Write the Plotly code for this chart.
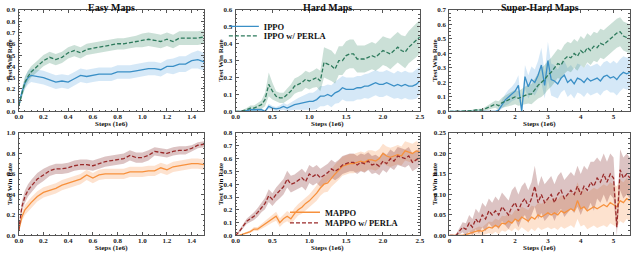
import plotly.graph_objects as go

# ---------------- data ----------------
easy_x = [0, 0.025, 0.05, 0.075, 0.1, 0.15, 0.2, 0.25, 0.3, 0.35, 0.4, 0.45, 0.5, 0.55, 0.6, 0.65,
          0.7, 0.75, 0.8, 0.85, 0.9, 0.95, 1.0, 1.05, 1.1, 1.15, 1.2, 1.25, 1.3, 1.35, 1.4, 1.45, 1.5]
easy_ippo = [0.05, 0.17, 0.25, 0.30, 0.32, 0.31, 0.30, 0.28, 0.26, 0.27, 0.26, 0.29, 0.32, 0.31, 0.32, 0.33,
             0.33, 0.33, 0.35, 0.35, 0.35, 0.36, 0.37, 0.38, 0.38, 0.37, 0.40, 0.40, 0.42, 0.42, 0.45, 0.46, 0.44]
easy_ippo_sd = [0.02, 0.04, 0.05, 0.06, 0.06, 0.06, 0.06, 0.06, 0.06, 0.06, 0.06, 0.06, 0.06, 0.06, 0.06, 0.06,
                0.06, 0.06, 0.06, 0.06, 0.06, 0.06, 0.06, 0.06, 0.06, 0.06, 0.06, 0.07, 0.07, 0.07, 0.07, 0.08, 0.08]
easy_perla = [0.05, 0.16, 0.26, 0.31, 0.35, 0.40, 0.45, 0.48, 0.46, 0.48, 0.52, 0.54, 0.52, 0.55, 0.56, 0.57,
              0.58, 0.59, 0.60, 0.60, 0.61, 0.62, 0.63, 0.64, 0.63, 0.62, 0.64, 0.62, 0.65, 0.65, 0.65, 0.65, 0.66]
easy_perla_sd = [0.02, 0.04, 0.05, 0.05, 0.05, 0.05, 0.05, 0.05, 0.05, 0.05, 0.05, 0.05, 0.05, 0.05, 0.05, 0.05,
                 0.05, 0.05, 0.05, 0.05, 0.05, 0.05, 0.06, 0.06, 0.06, 0.06, 0.06, 0.06, 0.06, 0.06, 0.06, 0.06, 0.06]

hard_x = [0.0, 0.05, 0.1, 0.15, 0.2, 0.25, 0.3, 0.35, 0.4, 0.45, 0.5, 0.55, 0.6, 0.65, 0.7, 0.75, 0.8,
          0.85, 0.9, 0.95, 1.0, 1.05, 1.1, 1.15, 1.2, 1.25, 1.3, 1.35, 1.4, 1.45, 1.5, 1.55, 1.6, 1.65,
          1.7, 1.75, 1.8, 1.85, 1.9, 1.95, 2.0, 2.05, 2.1, 2.15, 2.2, 2.25, 2.3, 2.35, 2.4, 2.45, 2.5]
hard_ippo = [0, 0, 0, 0.005, 0.01, 0.01, 0.01, 0.01, 0.0, 0.03, 0.02, 0.015, 0.02, 0.03, 0.02, 0.03, 0.04,
             0.045, 0.05, 0.055, 0.06, 0.06, 0.07, 0.09, 0.09, 0.10, 0.09, 0.11, 0.12, 0.14, 0.13, 0.13, 0.13, 0.14,
             0.14, 0.15, 0.15, 0.16, 0.17, 0.16, 0.16, 0.17, 0.16, 0.15, 0.16, 0.15, 0.16, 0.15, 0.15, 0.16, 0.18]
hard_ippo_sd = [0, 0, 0.002, 0.005, 0.008, 0.01, 0.01, 0.01, 0.005, 0.015, 0.012, 0.012, 0.015, 0.02, 0.02, 0.025, 0.03,
                0.035, 0.04, 0.045, 0.05, 0.05, 0.055, 0.06, 0.06, 0.06, 0.065, 0.065, 0.07, 0.07, 0.07, 0.07, 0.07, 0.07,
                0.07, 0.07, 0.075, 0.075, 0.075, 0.075, 0.075, 0.075, 0.075, 0.075, 0.08, 0.08, 0.08, 0.08, 0.08, 0.085, 0.085]
hard_perla = [0, 0, 0.005, 0.01, 0.02, 0.02, 0.03, 0.04, 0.07, 0.16, 0.12, 0.09, 0.08, 0.08, 0.10, 0.12, 0.15,
              0.16, 0.17, 0.19, 0.18, 0.19, 0.20, 0.18, 0.29, 0.28, 0.27, 0.25, 0.30, 0.30, 0.33, 0.34, 0.34, 0.31,
              0.31, 0.31, 0.32, 0.33, 0.32, 0.34, 0.36, 0.35, 0.34, 0.36, 0.38, 0.36, 0.35, 0.38, 0.40, 0.42, 0.44]
hard_perla_sd = [0, 0.002, 0.005, 0.01, 0.015, 0.015, 0.02, 0.025, 0.04, 0.07, 0.05, 0.03, 0.03, 0.03, 0.035, 0.04, 0.045,
                 0.045, 0.05, 0.05, 0.05, 0.05, 0.055, 0.06, 0.09, 0.09, 0.09, 0.085, 0.085, 0.085, 0.085, 0.085, 0.085, 0.08,
                 0.08, 0.08, 0.08, 0.08, 0.08, 0.085, 0.085, 0.085, 0.09, 0.09, 0.09, 0.09, 0.095, 0.095, 0.1, 0.1, 0.1]

sh_x = [0.0, 0.1, 0.2, 0.3, 0.4, 0.5, 0.6, 0.7, 0.8, 0.9, 1.0, 1.1, 1.2, 1.3, 1.4, 1.5, 1.6, 1.7, 1.8, 1.9,
        2.0, 2.1, 2.2, 2.3, 2.4, 2.5, 2.6, 2.7, 2.8, 2.9, 3.0, 3.1, 3.2, 3.3, 3.4, 3.5, 3.6, 3.7, 3.8, 3.9,
        4.0, 4.1, 4.2, 4.3, 4.4, 4.5, 4.6, 4.7, 4.8, 4.9, 5.0, 5.1, 5.2, 5.3, 5.4, 5.5]
sh_ippo = [0, 0, 0, 0, 0, 0, 0, 0, 0, 0, 0, 0, 0, 0, 0, 0.01, 0.05, 0.08, 0.10, 0.12,
           0.14, 0.18, 0.0, 0.24, 0.17, 0.22, 0.20, 0.25, 0.32, 0.18, 0.35, 0.22, 0.21, 0.19, 0.23, 0.25, 0.20, 0.22, 0.19, 0.23,
           0.22, 0.20, 0.23, 0.21, 0.22, 0.23, 0.21, 0.24, 0.25, 0.23, 0.24, 0.22, 0.25, 0.27, 0.26, 0.27]
sh_ippo_sd = [0, 0, 0, 0, 0, 0, 0, 0, 0, 0, 0, 0, 0, 0, 0.002, 0.01, 0.03, 0.04, 0.05, 0.05,
              0.06, 0.07, 0.02, 0.08, 0.08, 0.09, 0.09, 0.1, 0.12, 0.09, 0.13, 0.11, 0.11, 0.1, 0.1, 0.1, 0.1, 0.1, 0.1, 0.1,
              0.1, 0.1, 0.1, 0.1, 0.1, 0.1, 0.1, 0.1, 0.1, 0.1, 0.11, 0.11, 0.11, 0.11, 0.11, 0.11]
sh_perla = [0, 0, 0, 0, 0, 0, 0.005, 0.005, 0.01, 0.01, 0.01, 0.02, 0.03, 0.04, 0.05, 0.04, 0.06, 0.07, 0.08, 0.09,
            0.10, 0.09, 0.10, 0.11, 0.12, 0.12, 0.15, 0.18, 0.20, 0.22, 0.25, 0.27, 0.30, 0.33, 0.32, 0.36, 0.38, 0.37, 0.40, 0.38,
            0.42, 0.40, 0.44, 0.42, 0.45, 0.44, 0.47, 0.46, 0.48, 0.50, 0.52, 0.54, 0.55, 0.52, 0.51, 0.50]
sh_perla_sd = [0, 0, 0, 0, 0, 0.002, 0.004, 0.005, 0.006, 0.008, 0.01, 0.012, 0.015, 0.02, 0.025, 0.03, 0.035, 0.04, 0.045, 0.05,
               0.05, 0.05, 0.055, 0.06, 0.065, 0.07, 0.08, 0.09, 0.1, 0.1, 0.1, 0.1, 0.1, 0.1, 0.1, 0.1, 0.1, 0.1, 0.1, 0.1,
               0.1, 0.1, 0.1, 0.1, 0.1, 0.1, 0.1, 0.1, 0.1, 0.1, 0.1, 0.1, 0.1, 0.1, 0.1, 0.1]

bl_x = easy_x
bl_mappo = [0.05, 0.18, 0.25, 0.29, 0.32, 0.38, 0.42, 0.44, 0.46, 0.49, 0.51, 0.53, 0.55, 0.59, 0.56, 0.59,
            0.60, 0.60, 0.60, 0.60, 0.62, 0.62, 0.62, 0.63, 0.63, 0.66, 0.64, 0.67, 0.68, 0.69, 0.70, 0.70, 0.69]
bl_mappo_sd = [0.02, 0.04, 0.05, 0.05, 0.05, 0.05, 0.05, 0.05, 0.05, 0.05, 0.05, 0.05, 0.05, 0.05, 0.05, 0.05,
               0.05, 0.05, 0.05, 0.05, 0.05, 0.05, 0.05, 0.05, 0.05, 0.05, 0.05, 0.05, 0.05, 0.05, 0.05, 0.05, 0.05]
bl_perla = [0.05, 0.28, 0.38, 0.44, 0.48, 0.55, 0.59, 0.63, 0.65, 0.65, 0.66, 0.68, 0.69, 0.69, 0.68, 0.70,
            0.72, 0.73, 0.74, 0.75, 0.78, 0.76, 0.76, 0.78, 0.82, 0.81, 0.80, 0.82, 0.83, 0.83, 0.85, 0.88, 0.89]
bl_perla_sd = [0.02, 0.05, 0.06, 0.06, 0.06, 0.06, 0.06, 0.05, 0.05, 0.05, 0.05, 0.05, 0.05, 0.05, 0.05, 0.05,
               0.05, 0.05, 0.05, 0.05, 0.05, 0.05, 0.05, 0.05, 0.04, 0.04, 0.04, 0.04, 0.04, 0.04, 0.03, 0.03, 0.03]

bm_x = hard_x
bm_mappo = [0, 0, 0.01, 0.02, 0.03, 0.05, 0.05, 0.07, 0.09, 0.11, 0.13, 0.15, 0.10, 0.13, 0.15, 0.13, 0.17,
            0.20, 0.22, 0.25, 0.27, 0.30, 0.33, 0.37, 0.40, 0.41, 0.45, 0.48, 0.51, 0.54, 0.55, 0.56, 0.56, 0.57,
            0.58, 0.57, 0.59, 0.59, 0.58, 0.60, 0.64, 0.62, 0.61, 0.62, 0.63, 0.62, 0.66, 0.65, 0.64, 0.66, 0.65]
bm_mappo_sd = [0, 0.003, 0.005, 0.008, 0.01, 0.015, 0.015, 0.02, 0.025, 0.03, 0.03, 0.035, 0.035, 0.035, 0.04, 0.04, 0.045,
               0.045, 0.05, 0.05, 0.05, 0.055, 0.06, 0.06, 0.065, 0.07, 0.07, 0.075, 0.075, 0.075, 0.075, 0.075, 0.075, 0.075,
               0.075, 0.075, 0.075, 0.075, 0.075, 0.075, 0.075, 0.075, 0.075, 0.075, 0.075, 0.075, 0.075, 0.075, 0.075, 0.075, 0.075]
bm_perla = [0, 0.03, 0.07, 0.11, 0.13, 0.15, 0.18, 0.22, 0.25, 0.31, 0.28, 0.32, 0.35, 0.38, 0.44, 0.40, 0.41,
            0.43, 0.45, 0.42, 0.48, 0.46, 0.48, 0.45, 0.47, 0.49, 0.52, 0.50, 0.52, 0.55, 0.56, 0.57, 0.57, 0.55,
            0.57, 0.56, 0.58, 0.55, 0.56, 0.54, 0.58, 0.56, 0.60, 0.58, 0.62, 0.61, 0.60, 0.62, 0.57, 0.59, 0.61]
bm_perla_sd = [0, 0.01, 0.015, 0.02, 0.025, 0.03, 0.035, 0.04, 0.045, 0.05, 0.05, 0.055, 0.06, 0.06, 0.065, 0.065, 0.065,
               0.065, 0.07, 0.07, 0.07, 0.07, 0.07, 0.07, 0.07, 0.07, 0.07, 0.07, 0.07, 0.07, 0.07, 0.07, 0.07, 0.07,
               0.07, 0.07, 0.07, 0.07, 0.07, 0.07, 0.07, 0.07, 0.07, 0.07, 0.07, 0.07, 0.07, 0.07, 0.07, 0.07, 0.07]

br_x = sh_x
br_mappo = [0, 0, 0, 0, 0, 0.002, 0.005, 0.008, 0.01, 0.012, 0.01, 0.015, 0.02, 0.018, 0.025, 0.02, 0.03, 0.028, 0.035, 0.03,
            0.04, 0.035, 0.045, 0.04, 0.035, 0.045, 0.04, 0.05, 0.045, 0.05, 0.055, 0.05, 0.055, 0.05, 0.06, 0.055, 0.06, 0.065, 0.06, 0.085,
            0.065, 0.07, 0.06, 0.065, 0.07, 0.065, 0.07, 0.075, 0.07, 0.08, 0.075, 0.07, 0.085, 0.08, 0.09, 0.085]
br_mappo_sd = [0, 0, 0, 0.001, 0.002, 0.003, 0.005, 0.006, 0.008, 0.01, 0.01, 0.012, 0.014, 0.015, 0.016, 0.017, 0.018, 0.019, 0.02, 0.02,
               0.022, 0.024, 0.025, 0.026, 0.027, 0.028, 0.03, 0.03, 0.032, 0.033, 0.035, 0.035, 0.036, 0.037, 0.038, 0.039, 0.04, 0.04, 0.042, 0.045,
               0.043, 0.044, 0.045, 0.045, 0.046, 0.047, 0.048, 0.05, 0.05, 0.05, 0.05, 0.05, 0.05, 0.05, 0.05, 0.05]
br_perla = [0, 0, 0, 0.01, 0.02, 0.015, 0.03, 0.02, 0.04, 0.03, 0.05, 0.04, 0.06, 0.05, 0.06, 0.05, 0.07, 0.06, 0.05, 0.07,
            0.08, 0.06, 0.08, 0.09, 0.07, 0.09, 0.12, 0.08, 0.10, 0.08, 0.09, 0.10, 0.08, 0.10, 0.11, 0.09, 0.10, 0.11, 0.10, 0.12,
            0.10, 0.12, 0.11, 0.13, 0.12, 0.14, 0.13, 0.15, 0.13, 0.15, 0.14, 0.02, 0.16, 0.14, 0.15, 0.14]
br_perla_sd = [0, 0, 0.003, 0.008, 0.012, 0.015, 0.02, 0.02, 0.025, 0.025, 0.03, 0.03, 0.03, 0.03, 0.035, 0.035, 0.035, 0.035, 0.035, 0.04,
               0.04, 0.04, 0.04, 0.04, 0.04, 0.04, 0.05, 0.04, 0.045, 0.045, 0.045, 0.045, 0.045, 0.045, 0.045, 0.045, 0.045, 0.045, 0.045, 0.05,
               0.05, 0.05, 0.05, 0.05, 0.06, 0.05, 0.05, 0.05, 0.05, 0.05, 0.05, 0.02, 0.05, 0.05, 0.05, 0.05]

titles = ["Easy Maps", "Hard Maps", "Super-Hard Maps"]
x_ticks = [[0.0, 0.2, 0.4, 0.6, 0.8, 1.0, 1.2, 1.4], [0.0, 0.5, 1.0, 1.5, 2.0, 2.5], [0, 1, 2, 3, 4, 5]]
x_fmt = [".1f", ".1f", "d"]
x_minor = [0.05, 0.1, 0.25]
x_ranges = [[0, 1.5], [0, 2.5], [0, 5.5]]
y_ranges = [[0, 0.9], [0, 0.6], [0, 0.7], [0, 1.0], [0, 0.8], [0, 0.25]]
y_dticks = [0.1, 0.1, 0.1, 0.2, 0.1, 0.05]
y_minor = [0.025, 0.025, 0.025, 0.05, 0.025, 0.0125]
y_fmt = [".1f", ".1f", ".1f", ".1f", ".1f", ".2f"]

# ---------------- styling ----------------
FONT = "Liberation Serif"
C_IPPO, F_IPPO = "#3a8fc6", "rgba(115,180,228,0.30)"
C_IP_P, F_IP_P = "#2d7a5c", "rgba(70,145,110,0.28)"
C_MAPPO, F_MAPPO = "#f7913d", "rgba(250,165,105,0.32)"
C_MA_P, F_MA_P = "#9a2a2a", "rgba(140,55,55,0.30)"

fig = go.Figure()

panels = [
    (1, easy_x, [(easy_ippo, easy_ippo_sd, C_IPPO, F_IPPO, "solid", "IPPO"),
                 (easy_perla, easy_perla_sd, C_IP_P, F_IP_P, "dash", "IPPO w/ PERLA")]),
    (2, hard_x, [(hard_ippo, hard_ippo_sd, C_IPPO, F_IPPO, "solid", "IPPO"),
                 (hard_perla, hard_perla_sd, C_IP_P, F_IP_P, "dash", "IPPO w/ PERLA")]),
    (3, sh_x, [(sh_ippo, sh_ippo_sd, C_IPPO, F_IPPO, "solid", "IPPO"),
               (sh_perla, sh_perla_sd, C_IP_P, F_IP_P, "dash", "IPPO w/ PERLA")]),
    (4, bl_x, [(bl_mappo, bl_mappo_sd, C_MAPPO, F_MAPPO, "solid", "MAPPO"),
               (bl_perla, bl_perla_sd, C_MA_P, F_MA_P, "dash", "MAPPO w/ PERLA")]),
    (5, bm_x, [(bm_mappo, bm_mappo_sd, C_MAPPO, F_MAPPO, "solid", "MAPPO"),
               (bm_perla, bm_perla_sd, C_MA_P, F_MA_P, "dash", "MAPPO w/ PERLA")]),
    (6, br_x, [(br_mappo, br_mappo_sd, C_MAPPO, F_MAPPO, "solid", "MAPPO"),
               (br_perla, br_perla_sd, C_MA_P, F_MA_P, "dash", "MAPPO w/ PERLA")]),
]

legend_of = {(2, 0): "legend", (2, 1): "legend2", (5, 0): "legend3", (5, 1): "legend4"}

for idx, xs, series in panels:
    xa = "x" if idx == 1 else f"x{idx}"
    ya = "y" if idx == 1 else f"y{idx}"
    for mean, sd, col, fcol, dash, name in series:
        up = [m + s for m, s in zip(mean, sd)]
        lo = [max(0.0, m - s) for m, s in zip(mean, sd)]
        fig.add_trace(go.Scatter(x=list(xs) + list(xs)[::-1], y=up + lo[::-1], fill="toself",
                                 fillcolor=fcol, line=dict(width=0, color=fcol), mode="lines",
                                 hoverinfo="skip", showlegend=False, xaxis=xa, yaxis=ya))
    for k, (mean, sd, col, fcol, dash, name) in enumerate(series):
        key = (idx, k)
        fig.add_trace(go.Scatter(x=xs, y=mean, mode="lines", name=name,
                                 line=dict(color=col, width=1.3, dash=("4px,2px" if dash == "dash" else "solid")),
                                 showlegend=key in legend_of, legend=legend_of.get(key, "legend"),
                                 xaxis=xa, yaxis=ya))

x_dom = [[0.0234, 0.317], [0.367, 0.659], [0.706, 0.992]]
y_dom = [[0.565, 0.976], [0.063, 0.478]]

tickfont = dict(family=FONT, size=7, color="#222", weight="bold")
layout = {}
for i in range(6):
    col = i % 3
    row = i // 3
    xk = "xaxis" if i == 0 else f"xaxis{i+1}"
    yk = "yaxis" if i == 0 else f"yaxis{i+1}"
    ya = "y" if i == 0 else f"y{i+1}"
    xa = "x" if i == 0 else f"x{i+1}"
    layout[xk] = dict(domain=x_dom[col], anchor=ya, range=x_ranges[col], tickvals=x_ticks[col],
                      tickformat=x_fmt[col], showgrid=False, zeroline=False, showline=True,
                      linecolor="#555", linewidth=1, mirror="allticks", ticks="inside", ticklen=3,
                      tickcolor="#555", tickfont=tickfont, ticklabelstandoff=-2,
                      minor=dict(ticks="inside", ticklen=1.5, dtick=x_minor[col], tickcolor="#555", showgrid=False))
    layout[yk] = dict(domain=y_dom[row], anchor=xa, range=y_ranges[i], dtick=y_dticks[i], tick0=0,
                      tickformat=y_fmt[i], showgrid=False, zeroline=False, showline=True,
                      linecolor="#555", linewidth=1, mirror="allticks", ticks="inside", ticklen=3,
                      tickcolor="#555", tickfont=tickfont, ticklabelstandoff=1,
                      minor=dict(ticks="inside", ticklen=1.5, dtick=y_minor[i], tickcolor="#555", showgrid=False))

annotations = []
for col in range(3):
    cx = (x_dom[col][0] + x_dom[col][1]) / 2
    annotations.append(dict(text=titles[col], x=cx, y=1 - 3.5 / 255, xref="paper", yref="paper",
                            showarrow=False, xanchor="center", yanchor="middle",
                            font=dict(family=FONT, size=10, color="#111", weight="bold")))
    for ypix in (123.5, 251.5):
        annotations.append(dict(text="Steps (1e6)", x=cx, y=1 - ypix / 255, xref="paper", yref="paper",
                                showarrow=False, xanchor="center", yanchor="middle",
                                font=dict(family=FONT, size=7, color="#111", weight="bold")))
ylab_x = [6, 220, 437]
for row in range(2):
    cy = (y_dom[row][0] + y_dom[row][1]) / 2
    for col in range(3):
        annotations.append(dict(text="Test Win Rate", x=ylab_x[col] / 640, y=cy, xref="paper", yref="paper",
                                showarrow=False, xanchor="center", yanchor="middle", textangle=-90,
                                font=dict(family=FONT, size=7, color="#111", weight="bold")))

legfont = dict(family=FONT, size=8.5, color="#111", weight="bold")


def leg(xpix, ypix):
    return dict(x=xpix / 640, y=1 - ypix / 255, xanchor="left", yanchor="middle", bgcolor="rgba(0,0,0,0)",
                font=legfont, itemwidth=30, borderwidth=0, tracegroupgap=0)


fig.update_layout(
    width=640, height=255, margin=dict(l=0, r=0, t=0, b=0),
    paper_bgcolor="white", plot_bgcolor="white",
    annotations=annotations,
    legend=leg(223, 23), legend2=leg(223, 33),
    legend3=leg(285, 215), legend4=leg(285, 226),
    **layout,
)

fig.write_html("out.html", config={"displayModeBar": False},
               post_script="document.body.style.margin='0';document.body.style.padding='0';")
